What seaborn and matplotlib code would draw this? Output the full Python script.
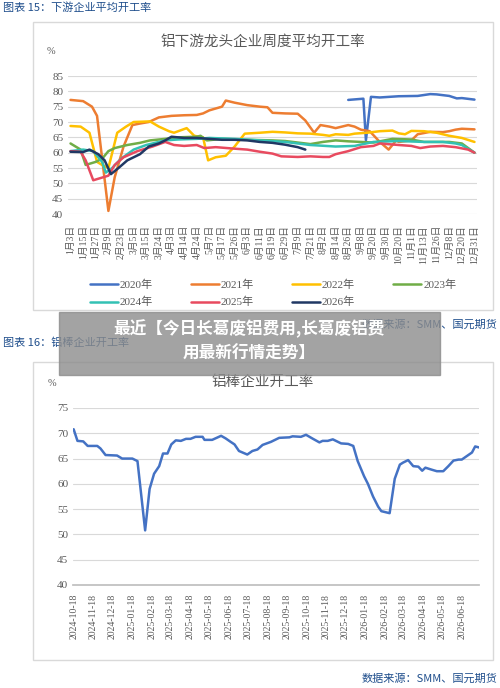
import numpy as np
import pandas as pd
import matplotlib
matplotlib.use("Agg")
import matplotlib.pyplot as plt
import matplotlib.dates as mdates
import seaborn as sns

sns.set_theme(style="white")
FAM = ['Liberation Serif', 'Noto Sans CJK SC', 'DejaVu Sans']
CJK = ['Noto Sans CJK SC', 'DejaVu Sans']
plt.rcParams['font.family'] = FAM

# ---------- chart 15 data (x in tick-label index units) ----------
tick_labels = ["1月3日","1月15日","1月27日","2月9日","2月23日","3月5日","3月15日","3月24日","4月3日",
               "4月14日","4月24日","5月7日","5月17日","5月26日","6月3日","6月11日","6月19日","6月29日",
               "7月9日","7月21日","8月2日","8月14日","8月26日","9月8日","9月20日","9月30日","10月20日",
               "11月1日","11月13日","11月26日","12月8日","12月20日","12月31日"]
x2020 = [22,23.2,23.4,23.8,24.5,26,27.5,28.5,29,30,30.6,31,32]
y2020 = [77.2,77.6,64,78.2,78,78.4,78.5,79.1,79,78.5,77.7,77.8,77.3]
x2021 = [0,1,1.7,2.1,3,3.5,4.2,4.9,5.5,6.2,7,8,9,10,10.5,11,12,12.3,13,14,15,15.6,16,17,18,18.6,19.3,19.8,20.5,21,22,22.5,23,23.7,24.5,25.2,25.8,26,27,27.5,28.5,29.5,30,30.5,31,32]
y2021 = [77.2,76.8,75,72,41,52,62,69,69.5,70,71.5,72,72.2,72.3,72.8,73.8,75,77,76.3,75.5,75,74.8,73,72.8,72.7,70.5,66.5,69,68.5,68,69,68.5,67.5,67,63.5,61,64,63.5,64,66,66.8,66.7,67,67.5,67.8,67.6]
x2022 = [0,0.8,1.5,2.1,2.5,3,3.7,4.4,5,6.3,7,7.8,8.2,9.2,9.8,10.5,10.9,11.5,12.3,13,13.8,15,16,17,18,19,20,20.5,21,22,22.5,23.5,24.5,25.5,26,26.5,27,28,29,30,31,32]
y2022 = [68.7,68.5,66.5,57,56,55,66.5,68.5,70,70.2,68.5,67,66.5,68,65.5,65,57.5,58.5,59,62,66.2,66.5,66.8,66.6,66.3,66.2,65.8,65.5,66,65.8,66.2,66.5,67,67.2,66.3,66,67.1,67,66.5,65.5,64.8,63.5]
x2023 = [0,0.8,1.2,2,2.5,3,3.5,4.5,5.5,6.3,7.5,8.5,10,10.3,10.8,12,14,16,17,18,19,20,21,22,24,25.5,27,28,30,31,32]
y2023 = [63,61,56,57,58,60.5,61.5,62.5,63.2,64,64.5,65,65.2,65.5,64,64.5,64.2,64,63.8,63.3,62.8,63.5,64,63.7,63.3,64.5,64.3,63.5,63.5,63,60]
x2024 = [0,1,1.8,2.5,2.8,3.3,4,5,6,7.5,8.5,10,11,13,15,17,19,21,22.5,24,26,28,29.5,30.5,31,32]
y2024 = [60.5,61,60.5,57,53.5,55,58,61,62.5,64,64.3,64.5,64.8,64.5,64,63.5,62.5,62,62.2,63.5,63.8,63.5,63.5,63,62.5,60]
x2025 = [0,0.8,1.2,1.8,3,3.5,4.2,5.3,6.5,7.5,8.2,9,10,10.6,11.5,13,14,15,16,16.7,18,19,20,20.5,21,22,23,24,24.5,26,27,27.7,28.5,29.5,30.5,31.5,32]
y2025 = [60.5,60.3,57.5,51,52.5,56,58.5,60.5,62,63.5,62.5,62.2,62.5,61.5,61.8,61.3,61,60.3,59.7,58.8,58.6,58.8,58.6,58.6,59.5,60.5,61.8,62.2,63,62.5,62.2,61.5,62,62.2,61.8,61,60]
x2026 = [0,1,1.5,2.2,2.7,3.2,3.8,4.5,5.5,6.2,7,7.5,8,9,10,11,12,13,14,15,16,17,18,18.6]
y2026 = [60.3,60.2,61,59.5,57.5,53,55,57.5,59.5,62,63,64,65.2,64.8,64.8,64.5,64.2,64.2,64,63.5,63.2,62.6,61.8,61]

series = [("2020年", x2020, y2020, "#4472C4"), ("2021年", x2021, y2021, "#ED7D31"),
          ("2022年", x2022, y2022, "#FFC000"), ("2023年", x2023, y2023, "#70AD47"),
          ("2024年", x2024, y2024, "#33C1B4"), ("2025年", x2025, y2025, "#E84A5F"),
          ("2026年", x2026, y2026, "#203864")]

# ---------- chart 16 data ----------
start_date = "2024-10-18"
day_offsets = [0,6,15,22,37,42,50,68,76,92,100,112,119,126,134,140,147,153,160,168,176,183,191,202,205,217,
               231,238,246,252,259,272,280,288,296,309,322,338,343,356,364,375,385,390,398,406,419,430,438,445,
               455,461,469,477,482,495,503,511,516,524,532,540,546,551,561,569,579,587,595,603,608,616,624,629,635]
bar_rate = [70.8,68.5,68.4,67.5,67.5,67,65.7,65.6,65,65,64.5,50.8,59,62,63.5,66,66,67.8,68.6,68.5,68.9,68.9,69.3,69.3,68.7,68.7,
            69.5,69,68.3,67.8,66.5,65.8,66.5,66.8,67.7,68.3,69.1,69.2,69.4,69.3,69.7,68.9,68.2,68.5,68.5,68.8,68,67.9,67.5,64.5,
            61.5,60,57.5,55.5,54.6,54.2,61,63.8,64.2,64.7,63.5,63.4,62.6,63.2,62.8,62.5,62.5,63.5,64.6,64.8,64.8,65.5,66.2,67.4,67.2]
tick_dates16 = pd.date_range("2024-10-18", periods=21, freq=pd.DateOffset(months=1))

W, H = 500, 688
fig = plt.figure(figsize=(5, 6.88), dpi=100)
def px(x0, y0, x1, y1):
    return [x0 / W, 1 - y1 / H, (x1 - x0) / W, (y1 - y0) / H]

blue_t = "#1F4E8C"
for (y0, y1) in [(22, 310), (362, 660)]:
    fig.patches.append(plt.Rectangle((33 / W, 1 - y1 / H), 460 / W, (y1 - y0) / H,
                                     transform=fig.transFigure, fill=False, ec="#d9d9d9", lw=1))

fig.text(3 / W, 1 - 8 / H, "图表 15：下游企业平均开工率", color=blue_t, fontsize=8, va="center", family=CJK)
fig.text(263 / W, 1 - 42 / H, "铝下游龙头企业周度平均开工率", color="#595959", fontsize=10.5, ha="center", va="center", family=CJK)
fig.text(51 / W, 1 - 52 / H, "%", color="#595959", fontsize=7.5, ha="center", va="center")

ax = fig.add_axes(px(68, 76, 477, 214))
for name, xs, ys, c in series:
    sns.lineplot(x=xs, y=ys, ax=ax, color=c, lw=1.8, label=name, legend=False)
ax.set_ylim(40, 85)
ax.set_xlim(-0.2, 32.2)
ax.set_yticks(range(40, 86, 5))
ax.set_xticks(range(len(tick_labels)))
ax.set_xticklabels(tick_labels, rotation=90, fontsize=7, color="#595959")
ax.tick_params(axis="y", labelsize=8, colors="#595959", length=0)
ax.tick_params(axis="x", length=0, pad=8)
ax.grid(axis="y", color="#d9d9d9", lw=0.8)
for s in ax.spines.values():
    s.set_visible(False)
h, l = ax.get_legend_handles_labels()
order = [0, 4, 1, 5, 2, 6, 3]
fig.legend([h[i] for i in order], [l[i] for i in order], loc="upper left", bbox_to_anchor=(80 / W, 1 - 270 / H),
           ncol=4, frameon=False, fontsize=8, handlelength=2.5, columnspacing=3.4, labelspacing=0.6,
           handletextpad=0.2, labelcolor="#595959")

fig.text(3 / W, 1 - 343 / H, "图表 16：铝棒企业开工率", color=blue_t, fontsize=8, va="center", family=CJK)
fig.text(263 / W, 1 - 382 / H, "铝棒企业开工率", color="#595959", fontsize=10.5, ha="center", va="center", family=CJK)
fig.text(52 / W, 1 - 383 / H, "%", color="#595959", fontsize=7.5, ha="center", va="center")
fig.text(497 / W, 1 - 325 / H, "数据来源：SMM、国元期货", color=blue_t, fontsize=8, ha="right", va="center", family=CJK)
fig.text(497 / W, 1 - 679 / H, "数据来源：SMM、国元期货", color=blue_t, fontsize=8, ha="right", va="center", family=CJK)

ax2 = fig.add_axes(px(73, 408, 479, 585))
dates = pd.to_datetime(start_date) + pd.to_timedelta(day_offsets, unit="D")
sns.lineplot(x=dates, y=bar_rate, ax=ax2, color="#4472C4", lw=1.8)
ax2.set_xlabel("")
ax2.set_ylabel("")
ax2.set_ylim(40, 75)
ax2.set_yticks(range(40, 76, 5))
ax2.set_xlim(dates[0] - pd.Timedelta(days=1), pd.Timestamp("2026-07-15"))
ax2.set_xticks(tick_dates16)
ax2.xaxis.set_major_formatter(mdates.DateFormatter("%Y-%m-%d"))
plt.setp(ax2.get_xticklabels(), rotation=90, fontsize=7, color="#595959")
ax2.tick_params(axis="y", labelsize=8, colors="#595959", length=0)
ax2.tick_params(axis="x", length=3, color="#bfbfbf", direction="out")
ax2.grid(axis="y", color="#d9d9d9", lw=0.8)
for k, s in ax2.spines.items():
    s.set_visible(k == "bottom")
ax2.spines["bottom"].set_color("#bfbfbf")

fig.patches.append(plt.Rectangle((59 / W, 1 - 375 / H), 381 / W, 63 / H, transform=fig.transFigure,
                                 color="#8c8c8c", alpha=0.8, zorder=10))
fig.text(249 / W, 1 - 329 / H, "最近【今日长葛废铝费用,长葛废铝费", color="white", fontsize=12,
         fontweight="bold", ha="center", va="center", family=CJK, zorder=11)
fig.text(249 / W, 1 - 354 / H, "用最新行情走势】", color="white", fontsize=12,
         fontweight="bold", ha="center", va="center", family=CJK, zorder=11)

fig.savefig("out.png", dpi=100)
